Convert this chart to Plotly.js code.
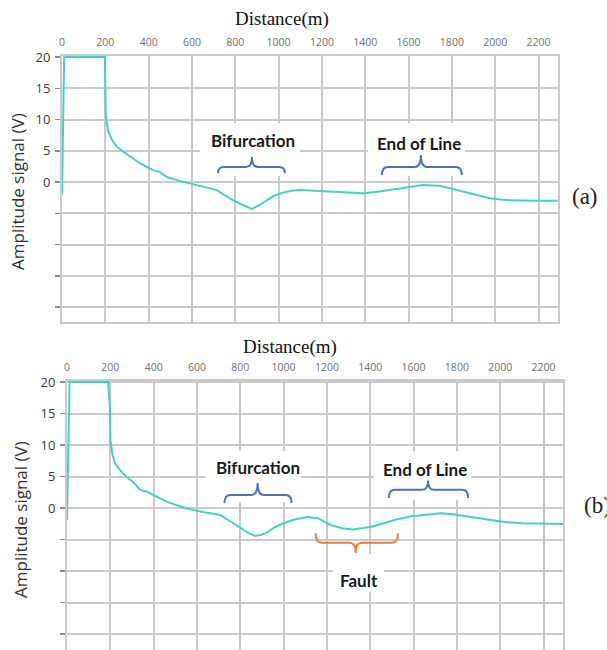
<!DOCTYPE html>
<html>
<head>
<meta charset="utf-8">
<script src="https://cdn.plot.ly/plotly-3.0.1.min.js"></script>
<style>html,body{margin:0;padding:0;background:#fff;}#chart{width:607px;height:650px;}</style>
</head>
<body>
<div id="chart"></div>
<script>
// ---- data ----
const distA = [0,4,10,198,200,202,212,231,254,291,305,328,360,392,420,450,484,530,590,650,715,750,789,830,877,910,946,980,1020,1060,1098,1150,1205,1300,1390,1450,1514,1590,1666,1744,1822,1900,1975,2050,2127,2200,2289];
const ampA  = [-2,8,20,20,14,10.7,8.3,6.7,5.6,4.6,4.3,3.8,3.0,2.4,1.9,1.6,0.8,0.3,-0.2,-0.7,-1.3,-2.1,-2.9,-3.6,-4.3,-3.7,-2.9,-2.2,-1.7,-1.4,-1.3,-1.4,-1.5,-1.7,-1.8,-1.6,-1.3,-0.9,-0.5,-0.6,-1.3,-2.0,-2.6,-2.9,-3.0,-3.0,-3.0];
const distB = [0,5,12,190,198,200,210,222,250,277,306,338,370,398,430,463,520,583,640,708,750,801,840,870,900,926,960,1000,1050,1111,1157,1218,1270,1320,1400,1463,1520,1588,1660,1727,1790,1852,1940,2019,2100,2190,2292];
const ampB  = [-1.9,10,20,20,16,10.8,8.5,7.1,5.8,4.9,4.1,2.9,2.6,2.1,1.6,1.0,0.3,-0.3,-0.7,-1.1,-2.0,-3.2,-4.0,-4.4,-4.2,-3.8,-3.0,-2.4,-1.8,-1.4,-1.6,-2.7,-3.2,-3.4,-3.0,-2.4,-1.8,-1.3,-1.0,-0.8,-1.0,-1.3,-1.8,-2.2,-2.4,-2.5,-2.5];
const xTicks = [0,200,400,600,800,1000,1200,1400,1600,1800,2000,2200];
const yTicks = [-20,-15,-10,-5,0,5,10,15,20];
const yTickText = ['','','','','0','5','10','15','20'];
const xTitle = 'Distance(m)';
const yTitle = 'Amplitude signal (V)';
const panelLabels = ['(a)','(b)'];
const eventLabels = ['Bifurcation','End of Line','Fault'];

const lineColor = '#48cfc0';
const gridColor = '#cacaca';

function xax(domain, anchor){
  return {domain:domain, anchor:anchor, side:'top', range:[0,2290], tickvals:xTicks,
    showgrid:true, gridcolor:gridColor, gridwidth:2, zeroline:false,
    showline:true, mirror:true, linecolor:gridColor, linewidth:2,
    ticks:'', ticklabelstandoff:4, tickfont:{family:'Open Sans', size:10.5, color:'#707070'}, fixedrange:true};
}
function yax(domain, anchor, range){
  return {domain:domain, anchor:anchor, range:range, tickvals:yTicks, ticktext:yTickText,
    showgrid:true, gridcolor:gridColor, gridwidth:2, zeroline:false,
    showline:true, mirror:true, linecolor:gridColor, linewidth:2,
    ticks:'outside', ticklen:5, tickwidth:1.5, tickcolor:'#8a8a8a', ticklabelstandoff:2,
    tickfont:{family:'Open Sans', size:13, color:'#3a3a3a'}, fixedrange:true};
}

function brace(xr, yr, x1, x2, xc, yEnd, yMid, yTip, color){
  const dx = 28;
  const p = `M ${x1},${yEnd} Q ${x1},${yMid} ${x1+dx},${yMid} L ${xc-dx},${yMid} Q ${xc},${yMid} ${xc},${yTip} Q ${xc},${yMid} ${xc+dx},${yMid} L ${x2-dx},${yMid} Q ${x2},${yMid} ${x2},${yEnd}`;
  return {type:'path', xref:xr, yref:yr, path:p, line:{color:color, width:2}, layer:'above'};
}
function box(xr, yr, x0, x1, y0, y1){
  return {type:'rect', xref:xr, yref:yr, x0:x0, x1:x1, y0:y0, y1:y1, fillcolor:'#ffffff', line:{width:0}, layer:'between'};
}
const blue = '#4a72c4', orange = '#ed7d31';

const traces = [
  {x:distA, y:ampA, xaxis:'x', yaxis:'y', mode:'lines', line:{color:lineColor, width:2}, hoverinfo:'skip'},
  {x:distB, y:ampB, xaxis:'x2', yaxis:'y2', mode:'lines', line:{color:lineColor, width:2}, hoverinfo:'skip'}
];

const lblFont = {family:'Lato', size:17, color:'#1a1a1a', weight:'bold'};
function pa(x, y, text, font, extra){
  return Object.assign({xref:'paper', yref:'paper', x:x/607, y:1-y/650, xanchor:'center', yanchor:'middle',
    text:text, showarrow:false, font:font}, extra||{});
}
const serif = {family:'Liberation Serif', size:19, color:'#111'};
const ytf = {family:'Open Sans', size:17, color:'#333'};
const plf = {family:'Liberation Serif', size:23, color:'#222'};
const layout = {
  width:607, height:650, margin:{l:0,r:0,t:0,b:0}, showlegend:false,
  paper_bgcolor:'#fff', plot_bgcolor:'#fff',
  xaxis: xax([62/607, 558/607], 'y'),
  yaxis: yax([1-322/650, 1-56/650], 'x', [-22.4, 20.16]),
  xaxis2: xax([67/607, 563/607], 'y2'),
  yaxis2: yax([0, 1-381/650], 'x2', [-22.5, 20.16]),
  shapes: [
    box('x','y',637,1098,0.95,9.4),
    box('x','y',1412,1860,0.95,9.4),
    box('x2','y2',639,1079,0.95,9.0),
    box('x2','y2',1417,1866,1.3,9.0),
    box('x2','y2',1227,1463,-7.3,-13.3),
    brace('x','y',720,1029,877,1.44,2.4,4.0,blue),
    brace('x','y',1477,1846,1657,1.1,2.4,4.3,blue),
    brace('x2','y2',727,1037,880,0.8,2.1,4.0,blue),
    brace('x2','y2',1486,1852,1667,1.6,2.9,4.4,blue),
    brace('x2','y2',1148,1528,1333,-4.0,-5.5,-7.1,orange)
  ],
  annotations: [
    {xref:'x', yref:'y', x:881, y:6.7, text:eventLabels[0], showarrow:false, font:lblFont},
    {xref:'x', yref:'y', x:1647, y:6.2, text:eventLabels[1], showarrow:false, font:lblFont},
    {xref:'x2', yref:'y2', x:884, y:6.5, text:eventLabels[0], showarrow:false, font:lblFont},
    {xref:'x2', yref:'y2', x:1653, y:6.2, text:eventLabels[1], showarrow:false, font:lblFont},
    {xref:'x2', yref:'y2', x:1347, y:-11.4, text:eventLabels[2], showarrow:false, font:lblFont},
    pa(281.5, 19, xTitle, serif),
    pa(290, 347, xTitle, serif),
    pa(18, 192, yTitle, ytf, {textangle:-90}),
    pa(20, 520, yTitle, ytf, {textangle:-90}),
    pa(570, 197, panelLabels[0], plf, {xanchor:'left'}),
    pa(582, 505, panelLabels[1], plf, {xanchor:'left'})
  ]
};
Plotly.newPlot('chart', traces, layout, {staticPlot:true, displayModeBar:false});
</script>
</body>
</html>
